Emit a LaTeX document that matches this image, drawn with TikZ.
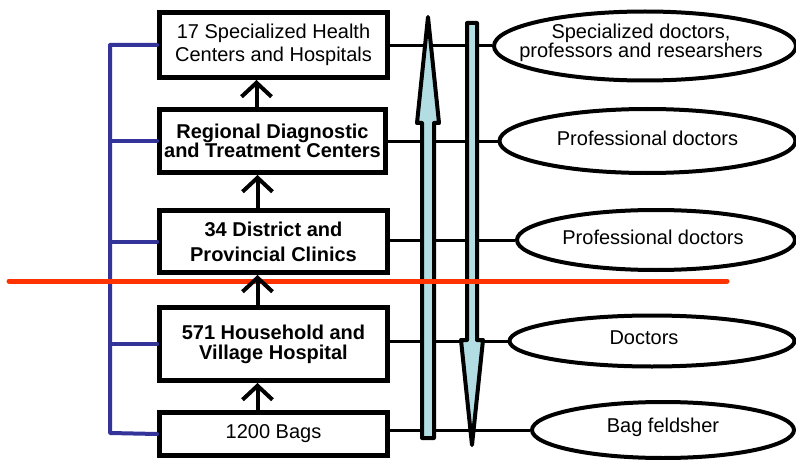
\documentclass[tikz,border=0pt]{standalone}
\usepackage{fontspec}
\setmainfont{Liberation Sans}
\usetikzlibrary{arrows.meta,shapes.geometric}
\definecolor{spine}{RGB}{51,51,153}
\definecolor{cut}{RGB}{255,51,0}
\definecolor{flow}{RGB}{178,222,227}
\tikzset{
  level/.style={draw=black, line width=5pt, fill=white, inner sep=0pt, align=center,
    font=\fontsize{20}{23}\selectfont},
  staff/.style={ellipse, draw=black, line width=4pt, fill=white, inner sep=0pt},
  stafftext/.style={inner sep=0pt, align=center, font=\fontsize{20}{18}\selectfont, yshift=3pt},
  link/.style={draw=black, line width=3pt},
  spineline/.style={draw=spine, line width=4pt, line cap=round, line join=round},
  cutline/.style={draw=cut, line width=5pt, line cap=round},
  uparrow/.style={draw=black, line width=4pt, -{Straight Barb[length=14pt,width=30pt]}},
  bigarrow/.style={draw=black, line width=4pt, fill=flow, line join=round}
}
\begin{document}
\begin{tikzpicture}[x=1pt,y=-1pt]
\useasboundingbox (0,0) rectangle (796,460);
\clip (0,0) rectangle (796,460);
\fill[white] (0,0) rectangle (796,460);

% coordinates
\coordinate (st) at (110,45);
\coordinate (sb) at (110,433);
\coordinate (rl) at (9,281);
\coordinate (rr) at (727,281);
\path (273.5,45) coordinate (c1) (272.5,141) coordinate (c2) (273.5,241.5) coordinate (c3)
      (273.5,344) coordinate (c4) (273.5,434) coordinate (c5);

% boxes
\node[level, minimum width=228pt, minimum height=65pt] (b1) at (c1) {17 Specialized Health\\Centers and Hospitals};
\node[level, minimum width=226pt, minimum height=63pt, font=\fontsize{20}{19}\selectfont\bfseries] (b2) at (c2) {Regional Diagnostic\\and Treatment Centers};
\node[level, minimum width=228pt, minimum height=62pt, font=\fontsize{20}{25}\selectfont\bfseries] (b3) at (c3) {34 District and\\Provincial Clinics};
\node[level, minimum width=228pt, minimum height=73pt, font=\fontsize{20}{20}\selectfont\bfseries] (b4) at (c4) {571 Household and\\Village Hospital};
\node[level, minimum width=228pt, minimum height=43pt] (b5) at (c5) {1200 Bags};

% blue spine
\draw[spineline] (b1.west) -- (st) -- (sb) -- (b5.west);
\draw[spineline] (b2.west) -- (b2.west -| st);
\draw[spineline] (b3.west) -- (b3.west -| st);
\draw[spineline] (b4.west) -- (b4.west -| st);

% staff ellipses
\node[staff, minimum width=302pt, minimum height=69pt] (e1) at (645,46) {};
\node[staff, minimum width=296pt, minimum height=64pt] (e2) at (647.5,141) {};
\node[staff, minimum width=278pt, minimum height=60pt] (e3) at (656,240) {};
\node[staff, minimum width=285pt, minimum height=51pt] (e4) at (652,341) {};
\node[staff, minimum width=262pt, minimum height=56pt] (e5) at (663,430) {};
\node[stafftext] (t1) at ([xshift=-4pt]e1.center) {Specialized doctors,\\professors and researshers};
\node[stafftext] (t2) at (e2.center) {Professional doctors};
\node[stafftext] (t3) at ([xshift=-3pt]e3.center) {Professional doctors};
\node[stafftext] (t4) at ([xshift=-8pt]e4.center) {Doctors};
\node[stafftext] (t5) at (e5.center) {Bag feldsher};

% links from levels to staff
\draw[link] (b1.east |- e1.west) -- (e1.west);
\draw[link] (b2.east |- e2.west) -- (e2.west);
\draw[link] (b3.east |- e3.west) -- (e3.west);
\draw[link] (b4.east |- e4.west) -- (e4.west);
\draw[link] (b5.east |- e5.west) -- (e5.west);

% big flow arrows
\draw[bigarrow] (422,438) -- (422,123) -- (417,123) -- (428,17) -- (439,123) -- (434,123) -- (434,438) -- cycle;
\draw[bigarrow] (467,23) -- (467,340) -- (461,340) -- (472,445) -- (483,340) -- (477,340) -- (477,23) -- cycle;

% red dividing line
\draw[cutline] (rl) -- (rr);

% arrows between levels
\draw[uparrow] ([xshift=-16pt]b2.north) -- ([xshift=-16pt]b2.north |- b1.south);
\draw[uparrow] ([xshift=-16pt]b3.north) -- ([xshift=-16pt]b3.north |- b2.south);
\draw[uparrow] ([xshift=-16pt]b4.north) -- ([xshift=-16pt]b4.north |- b3.south);
\draw[uparrow] ([xshift=-16pt]b5.north) -- ([xshift=-16pt]b5.north |- b4.south);
\end{tikzpicture}
\end{document}
